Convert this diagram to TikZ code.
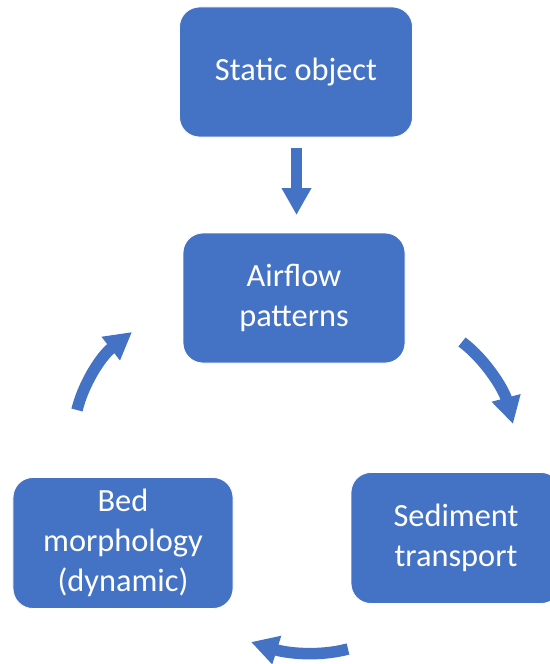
\documentclass[tikz,border=0pt]{standalone}
\usepackage{fontspec}
\setmainfont{Carlito}
\usetikzlibrary{arrows.meta}
\definecolor{boxblue}{HTML}{4472C4}
\begin{document}
\begin{tikzpicture}[x=1bp,y=-1bp,
  stage/.style={rectangle, rounded corners=20bp, fill=boxblue, draw=white,
    line width=0.8bp, text=white, align=center, inner sep=0pt,
    font=\fontsize{32.5}{40.5}\selectfont},
  flow/.style={draw=boxblue, line width=11.5bp,
    -{Triangle[length=27bp,width=28bp]}}]
  \useasboundingbox (0,0) rectangle (550,664);

  % stages of the cycle
  \node[stage, minimum width=233bp, minimum height=130bp] (static) at (296,72) {Static object};
  \node[stage, minimum width=222bp, minimum height=130bp] (air) at (294,298) {Airflow\\patterns};
  \node[stage, minimum width=210bp, minimum height=131bp] (sed) at (456,538) {Sediment\\transport};
  \node[stage, minimum width=220bp, minimum height=131bp] (bed) at (123,543) {Bed\\morphology\\(dynamic)};

  % arrow anchors around the loop
  \coordinate (s0) at (296.5,148);
  \coordinate (s1) at (296.5,215);
  \coordinate (r0) at (462,342);
  \coordinate (r1) at (513,424);
  \coordinate (b0) at (348,649);
  \coordinate (b1) at (251,642);
  \coordinate (l0) at (77,410);
  \coordinate (l1) at (132,332);

  \draw[flow] (s0) -- (s1);
  \draw[flow] (r0) .. controls (486,360) and (504,390) .. (r1);
  \draw[flow] (b0) .. controls (318,657) and (286,653) .. (b1);
  \draw[flow] (l0) .. controls (83,385) and (100,357) .. (l1);
\end{tikzpicture}
\end{document}
